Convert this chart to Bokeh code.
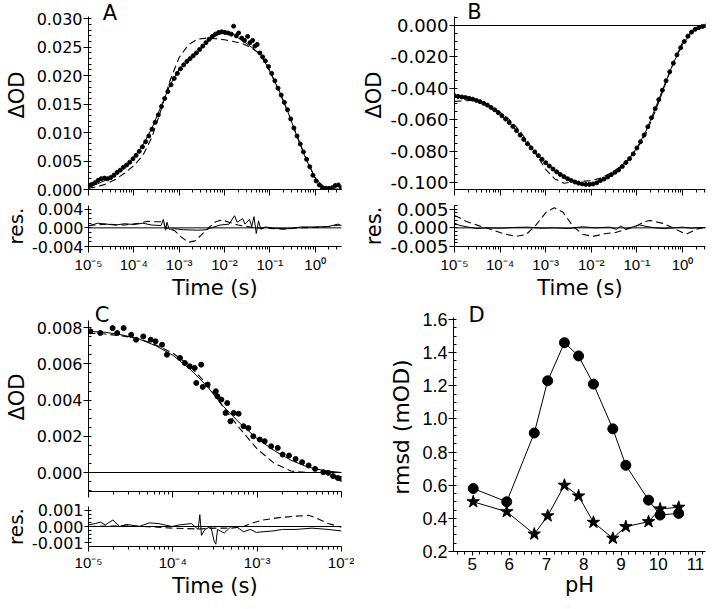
import numpy as np
from bokeh.plotting import figure
from bokeh.layouts import column, row
from bokeh.models import (FixedTicker, SingleIntervalTicker, PrintfTickFormatter,
                          CustomJSTickFormatter, Span, Label, Range1d)
from bokeh.embed import file_html
from bokeh.resources import INLINE

# ---------------- data ----------------
# Panel A : log10(time / s) and ΔOD
a_fit_logt = [-5.0, -4.8, -4.6, -4.4, -4.2, -4.0, -3.8, -3.6, -3.4, -3.2, -3.0, -2.8, -2.6, -2.4, -2.2,
              -2.0, -1.8, -1.6, -1.4, -1.2, -1.0, -0.8, -0.6, -0.4, -0.2, 0.0, 0.2, 0.4, 0.6]
a_fit = [0.0004, 0.0010, 0.0017, 0.0027, 0.0040, 0.0057, 0.0078, 0.0108, 0.0146, 0.0184, 0.0211, 0.0228,
         0.0242, 0.0257, 0.0270, 0.0276, 0.0272, 0.0261, 0.0250, 0.0237, 0.0208, 0.0174, 0.0136, 0.0093,
         0.0053, 0.0020, 0.0004, 0.0001, 0.0000]
a_dash = [0.0002, 0.0005, 0.0010, 0.0018, 0.0029, 0.0042, 0.0060, 0.0092, 0.0140, 0.0192, 0.0232, 0.0254,
          0.0264, 0.0266, 0.0265, 0.0263, 0.0260, 0.0256, 0.0249, 0.0236, 0.0208, 0.0174, 0.0136, 0.0094,
          0.0054, 0.0020, 0.0004, 0.0001, 0.0000]
a_dot_logt = [-5.00, -4.93, -4.86, -4.79, -4.72, -4.65, -4.58, -4.51, -4.44, -4.37, -4.30, -4.23, -4.16,
              -4.09, -4.02, -3.95, -3.88, -3.81, -3.74, -3.67, -3.60, -3.53, -3.46, -3.39, -3.32, -3.25,
              -3.18, -3.11, -3.04, -2.97, -2.90, -2.83, -2.76, -2.69, -2.62, -2.55, -2.48, -2.41, -2.34,
              -2.27, -2.20, -2.13, -2.06, -1.99, -1.92, -1.85, -1.80, -1.74, -1.69, -1.62, -1.56, -1.49,
              -1.44, -1.38, -1.33, -1.28, -1.22, -1.16, -1.10, -1.03, -0.96, -0.89, -0.82, -0.75, -0.68,
              -0.61, -0.54, -0.47, -0.40, -0.33, -0.26, -0.19, -0.12, -0.05, 0.02, 0.09, 0.16, 0.23,
              0.30, 0.37, 0.44, 0.51, 0.58]
a_dot = [0.0007, 0.0009, 0.0012, 0.0016, 0.0019, 0.0020, 0.0019, 0.0021, 0.0025, 0.0030, 0.0034, 0.0039,
         0.0043, 0.0048, 0.0054, 0.0060, 0.0067, 0.0075, 0.0084, 0.0094, 0.0106, 0.0118, 0.0131, 0.0146,
         0.0160, 0.0172, 0.0184, 0.0195, 0.0204, 0.0212, 0.0219, 0.0225, 0.0230, 0.0235, 0.0240, 0.0246,
         0.0252, 0.0258, 0.0264, 0.0269, 0.0273, 0.0276, 0.0277, 0.0276, 0.0275, 0.0273, 0.0287, 0.0270,
         0.0275, 0.0266, 0.0262, 0.0269, 0.0258, 0.0262, 0.0252, 0.0255, 0.0240, 0.0233, 0.0226, 0.0216,
         0.0204, 0.0191, 0.0178, 0.0166, 0.0153, 0.0140, 0.0124, 0.0108, 0.0094, 0.0080, 0.0066, 0.0053,
         0.0040, 0.0025, 0.0015, 0.0008, 0.0003, 0.0002, 0.0002, 0.0003, 0.0007, 0.0008, 0.0003]
a_res_logt = [-5.0, -4.8, -4.6, -4.4, -4.2, -4.0, -3.8, -3.6, -3.4, -3.35, -3.3, -3.27, -3.22, -3.1, -2.9,
              -2.6, -2.4, -2.3, -2.1, -1.9, -1.78, -1.72, -1.6, -1.55, -1.45, -1.4, -1.35, -1.3, -1.25,
              -1.2, -1.1, -0.9, -0.6, -0.3, 0.0, 0.3, 0.5, 0.6]
a_res = [0.0004, 0.0010, 0.0008, 0.0006, 0.0009, 0.0007, 0.0010, 0.0006, 0.0005, 0.0018, -0.0005, 0.0012,
         -0.0003, -0.0002, -0.0004, -0.0005, -0.0004, 0.0000, 0.0006, 0.0008, 0.0026, 0.0012, 0.0020,
         0.0008, 0.0018, 0.0003, 0.0024, -0.0012, 0.0015, -0.0003, 0.0002, -0.0001, -0.0002, 0.0002,
         0.0002, 0.0003, 0.0008, 0.0004]
a_resd_logt = [-5.0, -4.6, -4.2, -3.9, -3.7, -3.5, -3.35, -3.3, -3.1, -2.95, -2.8, -2.65, -2.5, -2.35,
               -2.2, -2.05, -1.9, -1.7, -1.5, -1.3, -1.0, -0.7, -0.4, 0.0, 0.3, 0.55]
a_resd = [0.0005, 0.0008, 0.0006, 0.0010, 0.0014, 0.0013, 0.0013, 0.0000, -0.0006, -0.0020, -0.0031,
          -0.0028, -0.0014, 0.0000, 0.0013, 0.0017, 0.0012, 0.0006, 0.0003, 0.0000, -0.0001, -0.0003,
          0.0000, 0.0001, 0.0003, 0.0006]

# Panel B
b_fit_logt = [-5.0, -4.8, -4.6, -4.4, -4.2, -4.0, -3.8, -3.6, -3.4, -3.2, -3.0, -2.8, -2.6, -2.4, -2.2,
              -2.0, -1.8, -1.6, -1.4, -1.2, -1.0, -0.8, -0.6, -0.4, -0.2, 0.0, 0.2, 0.4, 0.6]
b_fit = [-0.0450, -0.0457, -0.0469, -0.0490, -0.0522, -0.0565, -0.0618, -0.0683, -0.0754, -0.0817,
         -0.0874, -0.0923, -0.0963, -0.0992, -0.1009, -0.1011, -0.0989, -0.0958, -0.0920, -0.0861,
         -0.0780, -0.0672, -0.0530, -0.0382, -0.0240, -0.0122, -0.0043, -0.0011, -0.0001]
b_dash = [-0.0483, -0.0480, -0.0478, -0.0490, -0.0517, -0.0553, -0.0598, -0.0661, -0.0738, -0.0825,
          -0.0916, -0.0977, -0.1005, -0.0996, -0.0992, -0.0989, -0.0972, -0.0945, -0.0908, -0.0857,
          -0.0784, -0.0688, -0.0548, -0.0394, -0.0238, -0.0109, -0.0039, -0.0011, -0.0001]
b_dot_logt = [-5.00, -4.92, -4.84, -4.76, -4.68, -4.60, -4.52, -4.44, -4.36, -4.28, -4.20, -4.12, -4.04,
              -3.96, -3.88, -3.80, -3.72, -3.64, -3.56, -3.48, -3.40, -3.32, -3.24, -3.16, -3.08, -3.00,
              -2.92, -2.84, -2.76, -2.68, -2.60, -2.52, -2.44, -2.36, -2.28, -2.20, -2.12, -2.04, -1.96,
              -1.88, -1.80, -1.72, -1.64, -1.56, -1.48, -1.40, -1.32, -1.24, -1.16, -1.08, -1.00, -0.92,
              -0.84, -0.76, -0.68, -0.60, -0.52, -0.44, -0.36, -0.28, -0.20, -0.12, -0.04, 0.04, 0.12,
              0.20, 0.28, 0.36, 0.44, 0.52, 0.60]
b_dot = [-0.0447, -0.0452, -0.0455, -0.0459, -0.0464, -0.0469, -0.0477, -0.0485, -0.0496, -0.0507,
         -0.0522, -0.0537, -0.0555, -0.0575, -0.0596, -0.0618, -0.0643, -0.0669, -0.0698, -0.0726,
         -0.0754, -0.0780, -0.0805, -0.0829, -0.0852, -0.0874, -0.0895, -0.0914, -0.0932, -0.0949,
         -0.0963, -0.0976, -0.0987, -0.0997, -0.1004, -0.1009, -0.1012, -0.1012, -0.1009, -0.1002,
         -0.0988, -0.0978, -0.0965, -0.0950, -0.0935, -0.0920, -0.0898, -0.0873, -0.0848, -0.0818,
         -0.0780, -0.0740, -0.0697, -0.0645, -0.0588, -0.0530, -0.0472, -0.0412, -0.0352, -0.0295,
         -0.0240, -0.0187, -0.0142, -0.0102, -0.0068, -0.0042, -0.0024, -0.0013, -0.0006, -0.0002, 0.0000]
b_res_logt = [-5.0, -4.9, -4.7, -4.5, -4.3, -4.0, -3.7, -3.4, -3.1, -2.8, -2.5, -2.2, -1.9, -1.6, -1.45,
              -1.35, -1.25, -1.1, -0.95, -0.8, -0.6, -0.4, -0.2, 0.0, 0.2, 0.4, 0.6]
b_res = [0.0013, 0.0007, 0.0002, -0.0002, 0.0000, -0.0001, 0.0001, 0.0002, -0.0001, 0.0000, -0.0002,
         0.0003, 0.0000, 0.0002, -0.0004, 0.0005, -0.0003, 0.0002, 0.0008, 0.0004, 0.0000, -0.0002,
         0.0000, 0.0002, -0.0001, 0.0001, 0.0000]
b_resd_logt = [-5.0, -4.9, -4.74, -4.52, -4.23, -3.94, -3.65, -3.43, -3.21, -2.99, -2.81, -2.62, -2.40,
               -2.19, -1.97, -1.67, -1.45, -1.24, -1.02, -0.85, -0.72, -0.43, -0.14, 0.08, 0.30, 0.44]
b_resd = [0.0033, 0.0028, 0.0017, 0.0008, -0.0003, -0.0015, -0.0023, -0.0018, 0.0008, 0.0042, 0.0054,
          0.0042, 0.0004, -0.0017, -0.0023, -0.0015, -0.0012, -0.0004, 0.0004, 0.0016, 0.0020, 0.0012,
          -0.0004, -0.0017, -0.0004, 0.0000]

# Panel C
c_fit_logt = [-5.0, -4.8, -4.6, -4.4, -4.2, -4.0, -3.8, -3.6, -3.4, -3.2, -3.0, -2.8, -2.6, -2.4, -2.2, -2.0]
c_fit = [0.00780, 0.00775, 0.00760, 0.00738, 0.00700, 0.00648, 0.00573, 0.00480, 0.00365, 0.00270,
         0.00187, 0.00122, 0.00068, 0.00030, 0.00010, 0.00000]
c_dash = [0.00770, 0.00765, 0.00755, 0.00740, 0.00705, 0.00660, 0.00590, 0.00490, 0.00360, 0.00240,
          0.00130, 0.00052, 0.00008, 0.00000, 0.00000, 0.00000]
c_dot_logt = [-4.977, -4.861, -4.714, -4.583, -4.660, -4.494, -4.436, -4.351, -4.262, -4.205, -4.128,
              -4.070, -3.915, -3.857, -3.800, -3.741, -3.722, -3.664, -3.645, -3.587, -3.490, -3.471,
              -3.425, -3.375, -3.355, -3.317, -3.278, -3.220, -3.162, -3.104, -3.046, -2.969, -2.911,
              -2.834, -2.756, -2.698, -2.622, -2.544, -2.467, -2.390, -2.313, -2.216, -2.158, -2.100,
              -2.043, -2.004]
c_dot = [0.00780, 0.00771, 0.00798, 0.00798, 0.00771, 0.00761, 0.00734, 0.00752, 0.00734, 0.00725,
         0.00706, 0.00651, 0.00633, 0.00605, 0.00587, 0.00578, 0.00495, 0.00596, 0.00473, 0.00486,
         0.00449, 0.00421, 0.00403, 0.00329, 0.00384, 0.00283, 0.00329, 0.00325, 0.00256, 0.00246,
         0.00200, 0.00182, 0.00173, 0.00145, 0.00136, 0.00099, 0.00094, 0.00075, 0.00057, 0.00039,
         0.00020, 0.00002, -0.00002, -0.00020, -0.00030, -0.00035]
c_res_logt = [-5.0, -4.92, -4.86, -4.80, -4.71, -4.63, -4.55, -4.40, -4.28, -4.17, -4.09, -4.01, -3.93,
              -3.78, -3.70, -3.68, -3.66, -3.62, -3.55, -3.51, -3.49, -3.47, -3.39, -3.31, -3.24, -3.16,
              -3.08, -3.01, -2.93, -2.81, -2.70, -2.54, -2.35, -2.16, -2.0]
c_res = [0.00010, 0.00018, 0.00027, 0.00010, 0.00040, 0.00000, 0.00013, 0.00000, 0.00022, 0.00018,
         0.00009, 0.00000, 0.00009, 0.00018, -0.00018, 0.00072, -0.00054, -0.00018, 0.00000, -0.00090,
         -0.00108, -0.00018, -0.00040, 0.00000, -0.00004, -0.00032, -0.00018, -0.00036, -0.00032,
         -0.00027, -0.00018, -0.00018, -0.00010, -0.00018, -0.00027]
c_resd_logt = [-5.0, -4.5, -4.0, -3.7, -3.5, -3.3, -3.16, -3.08, -2.93, -2.74, -2.54, -2.39, -2.31, -2.16, -2.0]
c_resd = [0.00000, 0.00005, -0.00010, -0.00015, -0.00010, -0.00010, 0.00000, 0.00018, 0.00040, 0.00054,
          0.00063, 0.00068, 0.00054, 0.00018, -0.00004]

# Panel D : rmsd (mOD) vs pH
d_ph = [5.03, 5.93, 6.67, 7.03, 7.48, 7.86, 8.26, 8.78, 9.13, 9.74, 10.05, 10.55]
d_circ = [0.58, 0.50, 0.915, 1.23, 1.46, 1.38, 1.21, 0.94, 0.72, 0.51, 0.42, 0.43]
d_star = [0.50, 0.44, 0.305, 0.415, 0.60, 0.535, 0.376, 0.28, 0.35, 0.38, 0.457, 0.467]

# ---------------- helpers ----------------
TXT = "DejaVu Sans"
NUM = "Liberation Sans"
DASH = "7 4"

log_major = [10.0 ** e for e in range(-5, 1)]
log_minor = [k * 10.0 ** e for e in range(-5, 1) for k in range(2, 10)]
sup_code = """
const e = Math.round(Math.log10(tick));
const s = {'-':'\u207b','0':'\u2070','1':'\u00b9','2':'\u00b2','3':'\u00b3','4':'\u2074','5':'\u2075','6':'\u2076'};
return '10' + String(e).split('').map(c => s[c]).join('');
"""


def T(lt):
    return 10.0 ** np.asarray(lt)


def make_fig(w, h, xr, yr, l, r, t, b, xlog=True):
    p = figure(width=w, height=h, x_range=xr, y_range=yr,
               x_axis_type="log" if xlog else "linear",
               output_backend="svg", toolbar_location=None,
               min_border_left=l, min_border_right=r, min_border_top=t, min_border_bottom=b)
    p.outline_line_color = None
    p.grid.visible = False
    p.background_fill_color = "white"
    p.border_fill_color = "white"
    return p


def style_x_log(p, labels, font_size="15px", tick_out=6, standoff=3):
    ax = p.xaxis[0]
    ax.ticker = FixedTicker(ticks=log_major, minor_ticks=log_minor)
    ax.axis_line_color = "black"
    ax.major_tick_line_color = "black"
    ax.minor_tick_line_color = "black"
    ax.major_tick_out = tick_out
    ax.major_tick_in = 0
    ax.minor_tick_out = 3
    ax.minor_tick_in = 0
    ax.major_label_text_font = NUM
    ax.major_label_text_color = "black"
    if labels:
        ax.formatter = CustomJSTickFormatter(code=sup_code)
        ax.major_label_standoff = standoff
        ax.major_label_text_font_size = font_size
        ax.axis_label = "Time (s)"
        ax.axis_label_text_font = TXT
        ax.axis_label_text_font_size = "21px"
        ax.axis_label_text_font_style = "normal"
        ax.axis_label_text_color = "black"
        ax.axis_label_standoff = 0
    else:
        ax.formatter = CustomJSTickFormatter(code="return '';")
        ax.major_label_standoff = 0
        ax.major_label_text_font_size = "1px"


def style_y(p, label, interval, nminor, fmt, font_size, tick_out, lab_size, lab_standoff,
            font=TXT, bounds=None):
    ax = p.yaxis[0]
    ax.ticker = SingleIntervalTicker(interval=interval, num_minor_ticks=nminor)
    ax.formatter = PrintfTickFormatter(format=fmt)
    if bounds is not None:
        ax.bounds = bounds
    ax.axis_line_color = "black"
    ax.major_tick_line_color = "black"
    ax.minor_tick_line_color = "black"
    ax.major_tick_out = tick_out
    ax.major_tick_in = 0
    ax.minor_tick_out = 0
    ax.minor_tick_in = 3
    ax.major_label_standoff = 1
    ax.major_label_text_font = font
    ax.major_label_text_font_size = font_size
    ax.major_label_text_color = "black"
    ax.axis_label = label
    ax.axis_label_text_font = TXT
    ax.axis_label_text_font_size = lab_size
    ax.axis_label_text_font_style = "normal"
    ax.axis_label_text_color = "black"
    ax.axis_label_standoff = lab_standoff


def zero_line(p):
    p.add_layout(Span(location=0, dimension="width", line_color="black", line_width=1))


def panel_letter(p, x, y, text):
    p.add_layout(Label(x=x, y=y, text=text, text_font=TXT, text_font_size="21px",
                       text_align="center", text_baseline="middle", text_color="black"))


# ---------------- Panel A ----------------
fa_main = make_fig(354, 198, Range1d(1e-5, 3.8), Range1d(0.0, 0.03321), 82, 13, 0, 9)
fa_main.line(T(a_fit_logt), a_fit, line_color="black", line_width=1)
fa_main.line(T(a_fit_logt), a_dash, line_color="black", line_width=1.1, line_dash=DASH)
fa_main.scatter(T(a_dot_logt), a_dot, size=4, color="black")
style_x_log(fa_main, labels=False)
style_y(fa_main, "\u0394OD", 0.005, 5, "%.3f", "16px", 5, "21px", 5, bounds=(0.0, 0.0304))
panel_letter(fa_main, 10 ** -4.53, 0.0311, "A")

fa_res = make_fig(354, 104, Range1d(1e-5, 3.8), Range1d(-0.004, 0.0048), 82, 13, 7, 53)
zero_line(fa_res)
fa_res.line(T(a_res_logt), a_res, line_color="black", line_width=1)
fa_res.line(T(a_resd_logt), a_resd, line_color="black", line_width=1.1, line_dash=DASH)
style_x_log(fa_res, labels=True)
style_y(fa_res, "res.", 0.004, 4, "%.3f", "16px", 4, "20px", 1)

# ---------------- Panel B ----------------
fb_main = make_fig(352, 198, Range1d(1e-5, 3.2), Range1d(-0.10446, 0.01592), 100, 1, 0, 9)
zero_line(fb_main)
fb_main.line(T(b_fit_logt), b_fit, line_color="black", line_width=1)
fb_main.line(T(b_fit_logt), b_dash, line_color="black", line_width=1.1, line_dash=DASH)
fb_main.scatter(T(b_dot_logt), b_dot, size=4, color="black")
style_x_log(fb_main, labels=False)
style_y(fb_main, "\u0394OD", 0.02, 4, "%.3f", "18px", 5, "21px", 1, bounds=(-0.10446, 0.00573))
panel_letter(fb_main, 10 ** -4.56, 0.0083, "B")

fb_res = make_fig(352, 104, Range1d(1e-5, 3.2), Range1d(-0.005, 0.006), 100, 1, 7, 53)
zero_line(fb_res)
fb_res.line(T(b_res_logt), b_res, line_color="black", line_width=1)
fb_res.line(T(b_resd_logt), b_resd, line_color="black", line_width=1.1, line_dash=DASH)
style_x_log(fb_res, labels=True)
style_y(fb_res, "res.", 0.005, 5, "%.3f", "18px", 5, "21px", 1)

# ---------------- Panel C ----------------
fc_main = make_fig(354, 197, Range1d(1e-5, 1e-2), Range1d(-0.00105, 0.009395), 82, 13, 0, 8)
zero_line(fc_main)
fc_main.line(T(c_fit_logt), c_fit, line_color="black", line_width=1)
fc_main.line(T(c_fit_logt), c_dash, line_color="black", line_width=1.1, line_dash=DASH)
fc_main.scatter(T(c_dot_logt), c_dot, size=5, color="black")
style_x_log(fc_main, labels=False)
style_y(fc_main, "\u0394OD", 0.002, 4, "%.3f", "16px", 5, "21px", 5, bounds=(-0.00105, 0.0084))
panel_letter(fc_main, 10 ** -4.84, 0.00873, "C")

fc_res = make_fig(354, 101, Range1d(1e-5, 1e-2), Range1d(-0.00122, 0.00122), 82, 13, 7, 49)
zero_line(fc_res)
fc_res.line(T(c_res_logt), c_res, line_color="black", line_width=1)
fc_res.line(T(c_resd_logt), c_resd, line_color="black", line_width=1.1, line_dash=DASH)
style_x_log(fc_res, labels=True, tick_out=5, standoff=2)
style_y(fc_res, "res.", 0.001, 4, "%.3f", "16px", 4, "20px", 1)

# ---------------- Panel D ----------------
fd = make_fig(352, 298, Range1d(4.5, 11.27), Range1d(0.2, 1.7025), 99, 1, 0, 49, xlog=False)
fd.line(d_ph, d_circ, line_color="black", line_width=1)
fd.scatter(d_ph, d_circ, marker="circle", size=10, color="black")
fd.line(d_ph, d_star, line_color="black", line_width=1)
fd.scatter(d_ph, d_star, marker="star", size=13, color="black")
dx = fd.xaxis[0]
dx.ticker = SingleIntervalTicker(interval=1, num_minor_ticks=5)
dx.formatter = PrintfTickFormatter(format="%d")
dx.axis_line_color = "black"
dx.major_tick_line_color = "black"
dx.minor_tick_line_color = "black"
dx.major_tick_out = 4
dx.major_tick_in = 0
dx.minor_tick_out = 3
dx.minor_tick_in = 0
dx.major_label_standoff = 2
dx.major_label_text_font = NUM
dx.major_label_text_font_size = "17px"
dx.major_label_text_color = "black"
dx.axis_label = "pH"
dx.axis_label_text_font = TXT
dx.axis_label_text_font_size = "21px"
dx.axis_label_text_font_style = "normal"
dx.axis_label_text_color = "black"
dx.axis_label_standoff = 0
style_y(fd, "rmsd (mOD)", 0.2, 4, "%.1f", "18px", 5, "22px", 5, font=NUM, bounds=(0.2, 1.612))
panel_letter(fd, 5.12, 1.630, "D")

layout = column(
    row(column(fa_main, fa_res), column(fb_main, fb_res)),
    row(column(fc_main, fc_res), fd),
)

open("out.html", "w").write(file_html(layout, INLINE))
